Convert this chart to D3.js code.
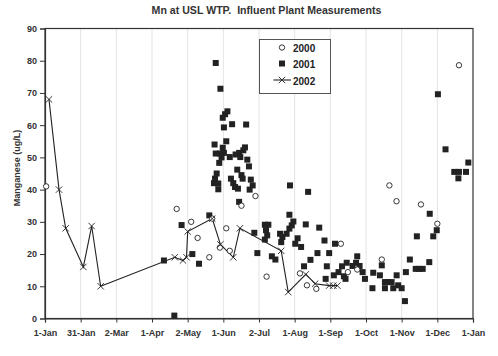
<!DOCTYPE html>
<html><head><meta charset="utf-8">
<script src="https://cdn.jsdelivr.net/npm/d3@7"></script>
<style>
html,body{margin:0;padding:0;background:#fff;}
svg{display:block;font-family:"Liberation Sans",Arial,sans-serif;}
</style></head>
<body><svg id="c" width="498" height="356"></svg>
<script>
// ---- data (day of year, Mn ug/L) ----
const days2000 = [1,112.6,125,130.5,140.5,143,149.5,155,158,168,180,189.5,218,224,232,253,259,267,288,294.5,300.6,321.5,335.5,354];
const mn2000   = [41,34,30,25,19,31,22,28,21,35,38,13,14,10.3,9.2,23.2,14.4,15.2,18.3,41.3,36.4,35.4,29.4,78.6];

const days2001 = [101.7,110.6,116.8,126,131.7,140.5,
  146,150,152,154,156,153,160,172,
  145,155,152,
  146,149.6,153,151,149,158,163,166,167,169.6,171,173,174.4,
  146.8,145.4,144.5,148.2,148.2,159,161,162.5,165,164.4,168,169,176,177.6,175,166,
  179,181.6,
  188,191,189,190,188,
  194,197,
  201,203,202,206.6,209,211,212.4,209,209.5,
  214,216,219,223,225,
  234.5,239,248,243,233,227,221.5,241,240,247,251,254,258,255.6,257,
  263,266,267,269,271.6,273.6,280,280.7,286.4,288,
  290.7,293.6,296.4,290.7,297.8,302,305,300.7,307.8,308.6,312,317,320,323,328.6,318,329,332,335,336,342.5,350,354,360,353.5,362];
const mn2001   = [18,0.9,29,20,17,32,
  79.3,71.3,62.3,63.4,64.3,59.3,60.3,60.2,
  54,55,53,
  51.2,51.2,51.4,50,48.3,50.1,50.9,51.4,50.1,52.2,53.1,49.3,47.2,
  45,43.4,42,41.9,40.1,43.4,42,40.8,40.3,46.2,44.5,43.4,43.1,41.3,40,36.2,
  26.6,20.3,
  29.1,29.1,27.4,25.8,24.5,
  19.3,18.3,
  26.3,25.3,23.7,26.3,27.9,28.9,30.1,32.2,41.3,
  23.2,24.9,22.2,29.2,39.3,
  28.2,24.2,23.2,20.3,20.3,18.2,16.2,16.2,12.3,13.4,14.4,16.2,17.3,13.1,12.3,
  16.3,17.3,19.3,16.3,14.4,12.3,9.4,14.2,13.4,16.5,
  11.3,11.3,11.3,9.4,9.4,10.3,9.4,13.4,5.4,14.4,18.3,15.4,15.4,15.4,17.5,25.5,32.5,25.5,27.4,69.6,52.5,45.5,45.5,45.5,43.5,48.4];

const days2002 = [3.4,12,17.7,32.8,39.9,47.6,111,118,121,122,143,150,161,166.7,202,208,223,231,243,246.5,250];
const mn2002   = [68,40,28,16,28.7,10,19,18,19,27,31,23,19,28,21,8.2,13.7,10.8,10.2,10.2,10.2];

const xTickLabels = ["1-Jan","31-Jan","2-Mar","1-Apr","2-May","1-Jun","2-Jul","1-Aug","1-Sep","1-Oct","1-Nov","1-Dec","1-Jan"];
const xTickDays = xTickLabels.map((d,i)=>i*30.5);
const yTicks = [0,10,20,30,40,50,60,70,80,90];
const seriesNames = ["2000","2001","2002"];

// ---- layout ----
const svg = d3.select("#c");
const L=45, R=473, T=28.5, B=318.5;
const x = d3.scaleLinear().domain([0,366]).range([L,R]);
const y = d3.scaleLinear().domain([0,90]).range([B,T]);
const ink = "#222";

// gridlines
svg.append("g").selectAll("line").data(xTickDays.slice(1,-1)).join("line")
  .attr("x1",d=>x(d)).attr("x2",d=>x(d)).attr("y1",T).attr("y2",B)
  .attr("stroke","#dcdcdc").attr("stroke-width",0.8);

// frame
svg.append("rect").attr("x",L).attr("y",T).attr("width",R-L).attr("height",B-T)
  .attr("fill","none").attr("stroke","#333").attr("stroke-width",1.2);

// axes
const xa = svg.append("g").attr("transform",`translate(0,${B})`)
  .call(d3.axisBottom(x).tickValues(xTickDays).tickFormat((d,i)=>xTickLabels[i]).tickSize(4).tickPadding(7));
const ya = svg.append("g").attr("transform",`translate(${L},0)`)
  .call(d3.axisLeft(y).tickValues(yTicks).tickSize(5).tickPadding(3));
[xa,ya].forEach(g=>{
  g.select(".domain").attr("stroke","#333").attr("stroke-width",1.2);
  g.selectAll(".tick line").attr("stroke","#333");
  g.selectAll("text").attr("font-family","Liberation Sans, Arial, sans-serif")
    .attr("font-size",9).attr("font-weight","bold").attr("fill","#333");
});

// title & y label
svg.append("text").attr("x",266.5).attr("y",13.5).attr("text-anchor","middle")
  .attr("font-size",10.6).attr("font-weight","bold").attr("fill","#333")
  .style("white-space","pre").text("Mn at USL WTP.  Influent Plant Measurements");
svg.append("text").attr("transform","translate(19.5,168) rotate(-90)").attr("text-anchor","middle")
  .attr("font-size",9).attr("font-weight","bold").attr("fill","#333").text("Manganese (ug/L)");

// symbols
const xMark = (g,cx,cy,s)=>g.append("path")
  .attr("d",`M${cx-s},${cy-s}L${cx+s},${cy+s}M${cx-s},${cy+s}L${cx+s},${cy-s}`)
  .attr("stroke",ink).attr("stroke-width",0.9).attr("fill","none");

// 2002 line
const d2002 = days2002.map((d,i)=>[d,mn2002[i]]);
svg.append("path").datum(d2002)
  .attr("d",d3.line().x(d=>x(d[0])).y(d=>y(d[1])))
  .attr("fill","none").attr("stroke",ink).attr("stroke-width",1.1);

// 2001 squares
const d2001 = days2001.map((d,i)=>[d,mn2001[i]]);
svg.append("g").selectAll("rect").data(d2001).join("rect")
  .attr("x",d=>x(d[0])-3).attr("y",d=>y(d[1])-3).attr("width",6).attr("height",6)
  .attr("fill",ink);

// 2000 circles
const d2000 = days2000.map((d,i)=>[d,mn2000[i]]);
svg.append("g").selectAll("circle").data(d2000).join("circle")
  .attr("cx",d=>x(d[0])).attr("cy",d=>y(d[1])).attr("r",2.7)
  .attr("fill","#fff").attr("stroke",ink).attr("stroke-width",0.9);

// 2002 markers
const gx = svg.append("g");
d2002.forEach(d=>xMark(gx,x(d[0]),y(d[1]),3.2));

// legend
const lg = svg.append("g");
lg.append("rect").attr("x",259.5).attr("y",39.5).attr("width",71).attr("height",54)
  .attr("fill","#fff").attr("stroke","#555").attr("stroke-width",1);
lg.append("circle").attr("cx",282).attr("cy",47.5).attr("r",2.7)
  .attr("fill","#fff").attr("stroke",ink).attr("stroke-width",0.9);
lg.append("rect").attr("x",279).attr("y",60.5).attr("width",6).attr("height",6).attr("fill",ink);
lg.append("line").attr("x1",273.5).attr("x2",291).attr("y1",80).attr("y2",80)
  .attr("stroke",ink).attr("stroke-width",1.1);
xMark(lg,282,80,3.2);
lg.selectAll("text").data(seriesNames).join("text")
  .attr("x",293).attr("y",(d,i)=>51.5+i*16.5)
  .attr("font-size",10).attr("font-weight","bold").attr("fill","#222").text(d=>d);
</script></body></html>
